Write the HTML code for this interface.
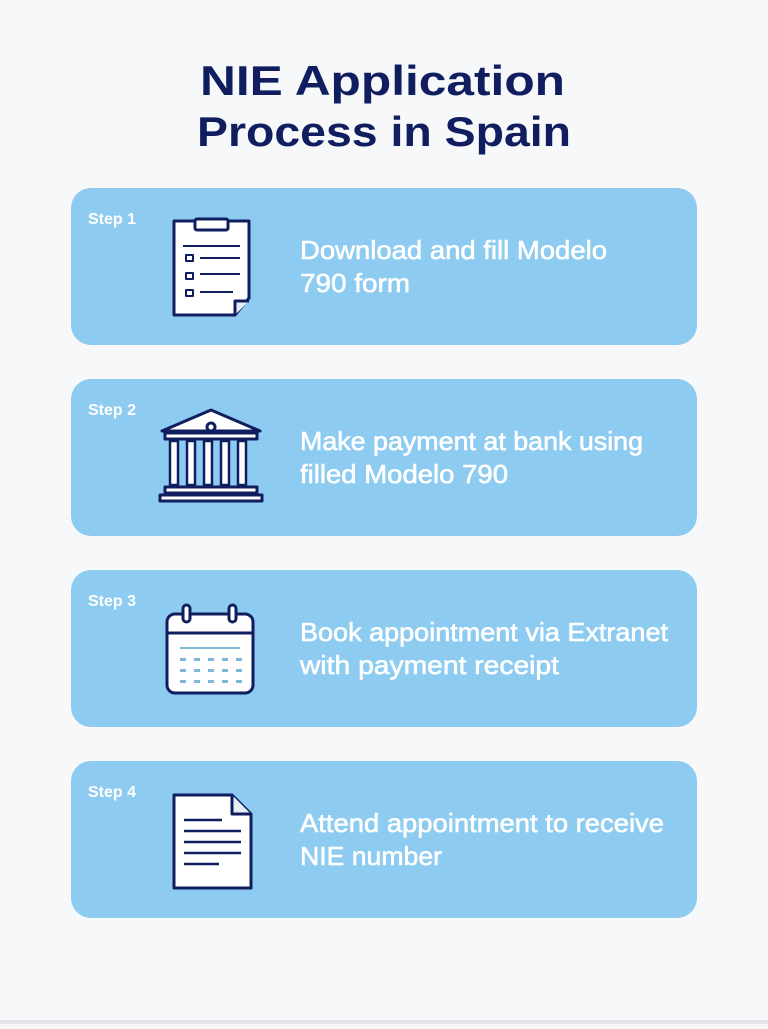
<!DOCTYPE html>
<html><head><meta charset="utf-8"><style>
html,body{margin:0;padding:0;}
body{width:768px;height:1024px;background:#f6f7f8;font-family:"Liberation Sans",sans-serif;overflow:hidden;}
</style></head><body>
<svg width="768" height="1024" xmlns="http://www.w3.org/2000/svg">
<rect x="0" y="0" width="768" height="1024" fill="#f7f8f9"/>
<rect x="0" y="1020" width="768" height="4" fill="#e3e5e8"/>
<g font-family="Liberation Sans, sans-serif" font-weight="bold" fill="#101e5f" font-size="42">
<text x="200" y="95" textLength="365" lengthAdjust="spacingAndGlyphs">NIE Application</text>
<text x="197" y="146" textLength="374" lengthAdjust="spacingAndGlyphs">Process in Spain</text>
</g>
<g fill="#8dcbf1">
<rect x="71" y="188" width="626" height="157" rx="20"/>
<rect x="71" y="379" width="626" height="157" rx="20"/>
<rect x="71" y="570" width="626" height="157" rx="20"/>
<rect x="71" y="761" width="626" height="157" rx="20"/>
</g>
<g font-family="Liberation Sans, sans-serif" font-weight="bold" fill="#fff" font-size="16">
<text x="88" y="224">Step 1</text>
<text x="88" y="415">Step 2</text>
<text x="88" y="606">Step 3</text>
<text x="88" y="797">Step 4</text>
</g>
<g font-family="Liberation Sans, sans-serif" fill="#fff" stroke="#fff" stroke-width="0.6" font-size="26">
<text x="300" y="259" textLength="307" lengthAdjust="spacingAndGlyphs">Download and fill Modelo</text>
<text x="300" y="292" textLength="110" lengthAdjust="spacingAndGlyphs">790 form</text>
<text x="300" y="450" textLength="343" lengthAdjust="spacingAndGlyphs">Make payment at bank using</text>
<text x="300" y="483" textLength="208" lengthAdjust="spacingAndGlyphs">filled Modelo 790</text>
<text x="300" y="641" textLength="368" lengthAdjust="spacingAndGlyphs">Book appointment via Extranet</text>
<text x="300" y="674" textLength="259" lengthAdjust="spacingAndGlyphs">with payment receipt</text>
<text x="300" y="832" textLength="364" lengthAdjust="spacingAndGlyphs">Attend appointment to receive</text>
<text x="300" y="865" textLength="142" lengthAdjust="spacingAndGlyphs">NIE number</text>
</g>
<g stroke="#101e5f" stroke-width="3" fill="#fff" stroke-linejoin="round">
<path d="M174 221 H249 V298 L235 315 H174 Z"/>
<path d="M235 315 L235 301 H249" fill="#e8eef5"/>
<rect x="195" y="219" width="33" height="11" rx="2"/>
<g stroke-width="2"><line x1="183" y1="246" x2="240" y2="246"/>
<rect x="186" y="255" width="7" height="6"/><line x1="200" y1="258" x2="240" y2="258"/>
<rect x="186" y="273" width="7" height="6"/><line x1="200" y1="274" x2="240" y2="274"/>
<rect x="186" y="290" width="7" height="6"/><line x1="200" y1="292" x2="233" y2="292"/></g>
</g>
<g stroke="#101e5f" stroke-width="3" fill="#fff" stroke-linejoin="round">
<path d="M162 431 L211 410 L260 431 Z"/>
<circle cx="211" cy="427" r="4"/>
<rect x="165" y="433" width="92" height="6"/>
<g stroke-width="2.5">
<rect x="170" y="441" width="8" height="44"/><rect x="187" y="441" width="8" height="44"/>
<rect x="204" y="441" width="8" height="44"/><rect x="221" y="441" width="8" height="44"/>
<rect x="238" y="441" width="8" height="44"/></g>
<rect x="165" y="487" width="92" height="6"/>
<rect x="160" y="495" width="102" height="6"/>
</g>
<g stroke="#101e5f" stroke-width="3" fill="#fff">
<rect x="167" y="614" width="86" height="79" rx="8"/>
<line x1="167" y1="633" x2="253" y2="633"/>
<rect x="183" y="605" width="7" height="17" rx="3.5"/>
<rect x="229" y="605" width="7" height="17" rx="3.5"/>
</g>
<g fill="#7fb6d9">
<rect x="180" y="647" width="60" height="2"/>
<g id="r"><rect x="180" y="658" width="6" height="3"/><rect x="194" y="658" width="6" height="3"/><rect x="208" y="658" width="6" height="3"/><rect x="222" y="658" width="6" height="3"/><rect x="236" y="658" width="6" height="3"/></g>
<use href="#r" y="11"/><use href="#r" y="22"/>
</g>
<g stroke="#101e5f" stroke-width="3" fill="#fff" stroke-linejoin="round">
<path d="M174 795 H232 L251 814 V888 H174 Z"/>
<path d="M232 795 V814 H251" fill="#e8eef5"/>
<g stroke-width="2.5"><line x1="184" y1="820" x2="222" y2="820"/><line x1="184" y1="831" x2="241" y2="831"/>
<line x1="184" y1="842" x2="241" y2="842"/><line x1="184" y1="853" x2="241" y2="853"/><line x1="184" y1="864" x2="219" y2="864"/></g>
</g>
</svg>
</body></html>
